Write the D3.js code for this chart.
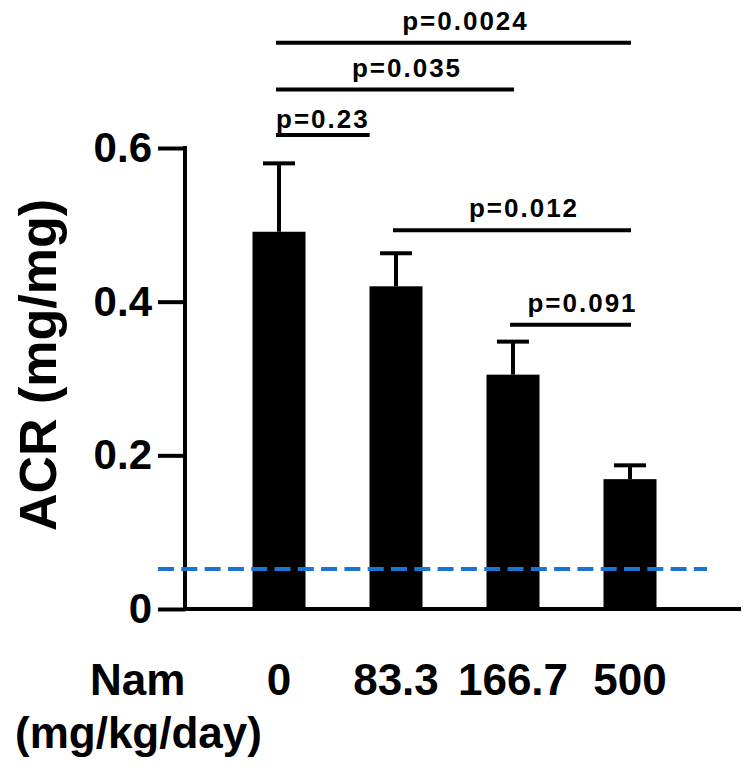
<script src="https://d3js.org/d3.v7.min.js"></script>
<style>
  body { margin: 0; background: white; }
  text { font-family: "Liberation Sans", Arial, sans-serif; font-weight: bold; fill: black; }
</style>
<div id="container"></div>
<script>
  // svg dimensions
  width = 750
  height = 777

  // data
  const doses = ["0", "83.3", "166.7", "500"];
  const acrMean = [0.491, 0.420, 0.305, 0.169];
  const acrSem = [0.089, 0.043, 0.043, 0.018];
  const yTicks = [0, 0.2, 0.4, 0.6];
  const refLevel = 0.052;

  // comparisons (bar index from / to, height of bracket in ACR units)
  const pLabels = ["p=0.0024", "p=0.035", "p=0.23", "p=0.012", "p=0.091"];
  const pFrom = [0, 0, 0, 1, 2];
  const pTo = [3, 2, 1, 3, 3];
  const pLevel = [0.737, 0.676, 0.617, 0.493, 0.370];

  var svg = d3.select("#container").append("svg")
    .attr("width", width)
    .attr("height", height);

  var x = d3.scaleBand()
    .domain(doses)
    .range([220.5, 688.5])
    .paddingInner(0.547)
    .paddingOuter(0.2735);

  var y = d3.scaleLinear()
    .domain([0, 0.6])
    .range([609, 148]);

  var cx = function(i) { return x(doses[i]) + x.bandwidth() / 2; };

  // bars
  svg.selectAll(".bar")
    .data(acrMean)
    .enter().append("rect")
    .attr("class", "bar")
    .attr("x", (d, i) => x(doses[i]))
    .attr("y", d => y(d))
    .attr("width", x.bandwidth())
    .attr("height", d => y(0) - y(d))
    .attr("fill", "black");

  // error bars (upper only)
  svg.selectAll(".err")
    .data(acrMean)
    .enter().append("line")
    .attr("x1", (d, i) => cx(i))
    .attr("x2", (d, i) => cx(i))
    .attr("y1", d => y(d))
    .attr("y2", (d, i) => y(d + acrSem[i]))
    .attr("stroke", "black")
    .attr("stroke-width", 4);

  svg.selectAll(".cap")
    .data(acrMean)
    .enter().append("line")
    .attr("x1", (d, i) => cx(i) - 16)
    .attr("x2", (d, i) => cx(i) + 16)
    .attr("y1", (d, i) => y(d + acrSem[i]))
    .attr("y2", (d, i) => y(d + acrSem[i]))
    .attr("stroke", "black")
    .attr("stroke-width", 4);

  // y axis
  var yAxis = d3.axisLeft(y)
    .tickValues(yTicks)
    .tickFormat(d => d === 0 ? "0" : d3.format(".1f")(d))
    .tickSize(27)
    .tickPadding(6);

  var gy = svg.append("g")
    .attr("transform", "translate(185,0)")
    .call(yAxis);
  gy.select(".domain").remove();
  gy.selectAll(".tick line").attr("stroke", "black").attr("stroke-width", 4);
  gy.selectAll(".tick text")
    .attr("font-size", 42)
    .attr("font-family", "Liberation Sans, Arial, sans-serif")
    .attr("font-weight", "bold")
    .attr("fill", "black");

  svg.append("line")
    .attr("x1", 185).attr("x2", 185)
    .attr("y1", y(0.6) - 2).attr("y2", y(0) + 2)
    .attr("stroke", "black")
    .attr("stroke-width", 4);

  // x axis line
  svg.append("line")
    .attr("x1", 185).attr("x2", 741)
    .attr("y1", y(0)).attr("y2", y(0))
    .attr("stroke", "black")
    .attr("stroke-width", 4);

  // reference level
  svg.append("line")
    .attr("x1", 158).attr("x2", 707)
    .attr("y1", y(refLevel)).attr("y2", y(refLevel))
    .attr("stroke", "#1a74d2")
    .attr("stroke-width", 4)
    .attr("stroke-dasharray", "16,7.3");

  // y title
  svg.append("text")
    .attr("transform", "translate(56," + 365 + ") rotate(-90)")
    .attr("text-anchor", "middle")
    .attr("font-size", 52)
    .text("ACR (mg/mg)");

  // category labels
  svg.selectAll(".dose")
    .data(doses)
    .enter().append("text")
    .attr("x", (d, i) => cx(i))
    .attr("y", 695)
    .attr("text-anchor", "middle")
    .attr("font-size", 44)
    .text(d => d);

  svg.append("text")
    .attr("x", 90).attr("y", 695)
    .attr("font-size", 44)
    .text("Nam");
  svg.append("text")
    .attr("x", 15).attr("y", 748)
    .attr("font-size", 44)
    .text("(mg/kg/day)");

  // significance brackets
  pLabels.forEach(function(lab, k) {
      var x1 = cx(pFrom[k]) - 3;
      var x2 = cx(pTo[k]) + 1;
      var ly = y(pLevel[k]);
      var t = svg.append("text")
        .attr("font-size", 26)
        .attr("letter-spacing", 2)
        .text(lab);
      if (pTo[k] - pFrom[k] == 1 && pFrom[k] == 0) {
          // short one is drawn as underlined text
          t.attr("x", x1).attr("y", ly - 7);
          var w = t.node().getComputedTextLength();
          x2 = x1 + w;
      } else {
          t.attr("x", (x1 + x2) / 2 + 12).attr("y", ly - 13)
            .attr("text-anchor", "middle");
      }
      svg.append("line")
        .attr("x1", x1).attr("x2", x2)
        .attr("y1", ly).attr("y2", ly)
        .attr("stroke", "black")
        .attr("stroke-width", 4);
  });
</script>
